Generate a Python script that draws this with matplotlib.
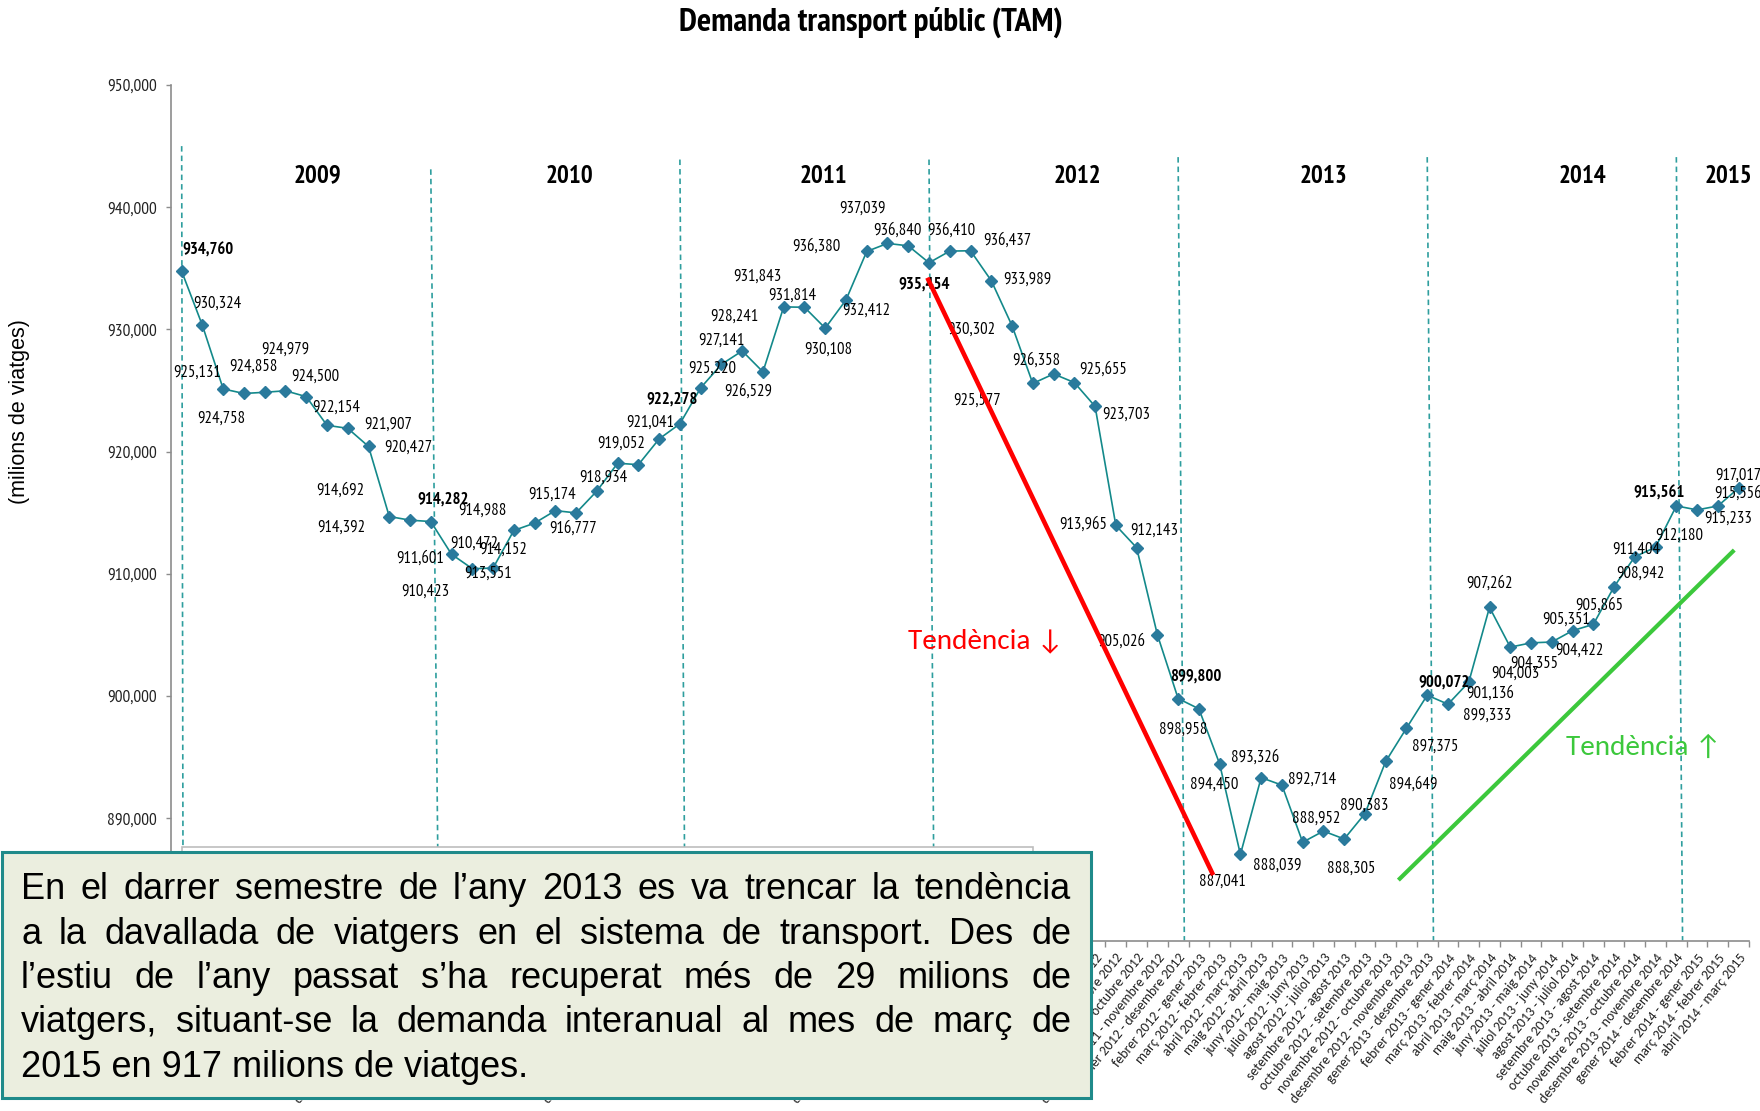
import numpy as np
import matplotlib
matplotlib.use('Agg')
import matplotlib.pyplot as plt
from matplotlib import font_manager
from matplotlib.patches import Rectangle

# ---------------------------------------------
# Data: TAM (12-month rolling) public transport demand
# ---------------------------------------------
tam_values = [
    934760, 930324, 925131, 924758, 924858, 924979, 924500, 922154, 921907, 920427,
    914692, 914392, 914282, 911601, 910423, 910472, 913551, 914152, 915174, 914988,
    916777, 919052, 918934, 921041, 922278, 925220, 927141, 928241, 926529, 931843,
    931814, 930108, 932412, 936380, 937039, 936840, 935454, 936410, 936437, 933989,
    930302, 925577, 926358, 925655, 923703, 913965, 912143, 905026, 899800, 898958,
    894450, 887041, 893326, 892714, 888039, 888952, 888305, 890383, 894649, 897375,
    900072, 899333, 901136, 907262, 904003, 904355, 904422, 905351, 905865, 908942,
    911404, 912180, 915561, 915233, 915556, 917017,
]

period_labels = [
    "gener 2008 - desembre 2008",
    "febrer 2008 - gener 2009", "març 2008 - febrer 2009", "abril 2008 - març 2009",
    "maig 2008 - abril 2009", "juny 2008 - maig 2009", "juliol 2008 - juny 2009",
    "agost 2008 - juliol 2009", "setembre 2008 - agost 2009", "octubre 2008 - setembre 2009",
    "novembre 2008 - octubre 2009", "desembre 2008 - novembre 2009", "gener 2009 - desembre 2009",
    "febrer 2009 - gener 2010", "març 2009 - febrer 2010", "abril 2009 - març 2010",
    "maig 2009 - abril 2010", "juny 2009 - maig 2010", "juliol 2009 - juny 2010",
    "agost 2009 - juliol 2010", "setembre 2009 - agost 2010", "octubre 2009 - setembre 2010",
    "novembre 2009 - octubre 2010", "desembre 2009 - novembre 2010", "gener 2010 - desembre 2010",
    "febrer 2010 - gener 2011", "març 2010 - febrer 2011", "abril 2010 - març 2011",
    "maig 2010 - abril 2011", "juny 2010 - maig 2011", "juliol 2010 - juny 2011",
    "agost 2010 - juliol 2011", "setembre 2010 - agost 2011", "octubre 2010 - setembre 2011",
    "novembre 2010 - octubre 2011", "desembre 2010 - novembre 2011", "gener 2011 - desembre 2011",
    "febrer 2011 - gener 2012", "març 2011 - febrer 2012", "abril 2011 - març 2012",
    "maig 2011 - abril 2012", "juny 2011 - maig 2012", "juliol 2011 - juny 2012",
    "agost 2011 - juliol 2012", "setembre 2011 - agost 2012", "octubre 2011 - setembre 2012",
    "novembre 2011 - octubre 2012", "desembre 2011 - novembre 2012", "gener 2012 - desembre 2012",
    "febrer 2012 - gener 2013", "març 2012 - febrer 2013", "abril 2012 - març 2013",
    "maig 2012 - abril 2013", "juny 2012 - maig 2013", "juliol 2012 - juny 2013",
    "agost 2012 - juliol 2013", "setembre 2012 - agost 2013", "octubre 2012 - setembre 2013",
    "novembre 2012 - octubre 2013", "desembre 2012 - novembre 2013", "gener 2013 - desembre 2013",
    "febrer 2013 - gener 2014", "març 2013 - febrer 2014", "abril 2013 - març 2014",
    "maig 2013 - abril 2014", "juny 2013 - maig 2014", "juliol 2013 - juny 2014",
    "agost 2013 - juliol 2014", "setembre 2013 - agost 2014", "octubre 2013 - setembre 2014",
    "novembre 2013 - octubre 2014", "desembre 2013 - novembre 2014", "gener 2014 - desembre 2014",
    "febrer 2014 - gener 2015", "març 2014 - febrer 2015", "abril 2014 - març 2015",
]

years = ['2009', '2010', '2011', '2012', '2013', '2014', '2015']
year_end_idx = [0, 12, 24, 36, 48, 60, 72]   # december points (bold labels, dashed lines)

box_lines = [
    "En el darrer semestre de l\u2019any 2013 es va trencar la tend\u00e8ncia",
    "a la davallada de viatgers en el sistema de transport. Des de",
    "l\u2019estiu de l\u2019any passat s\u2019ha recuperat m\u00e9s de 29 milions de",
    "viatgers, situant-se la demanda interanual al mes de mar\u00e7 de",
    "2015 en 917 milions de viatges.",
]

# ---------------------------------------------
# Layout (pixels in a 1760x1111 canvas)
# ---------------------------------------------
# data label offsets (dx, dy) in px, screen coords (dy down)
label_off = [
    (26, -21), (15, -22), (-26, -16), (-23, 25), (-11, -26), (0, -41), (9, -20), (9, -18),
    (40, -4), (40, 1), (-49, -26), (-69, 8), (12, -22), (-31, 4), (-47, 23), (-19, -24),
    (-26, 43), (-31, 27), (-3, -16), (-94, -2), (-24, 38), (4, -20), (-35, 13), (-9, -16),
    (-8, -24), (12, -19), (0, -24), (-8, -34), (-15, 20), (-26, -30), (-12, -12), (3, 22),
    (20, 11), (-50, -5), (-25, -35), (-11, -15), (-5, 22), (2, -20), (37, -10), (36, -1),
    (-41, 4), (-56, 17), (-17, -13), (29, -13), (31, 8), (-33, -1), (18, -17), (-36, 7),
    (18, -22), (-16, 21), (-5, 21), (-18, 27), (-6, -20), (30, -5), (-25, 23), (-7, -12),
    (7, 30), (-1, -8), (28, 23), (29, 19), (17, -13), (39, 11), (21, 12), (0, -24),
    (5, 27), (3, 21), (28, 9), (-6, -11), (6, -19), (26, -13), (1, -7), (24, -12),
    (-17, -12), (31, 9), (20, -12), (0, -12),
]
year_label_x = [6.55, 18.7, 30.9, 43.15, 55.0, 67.5, 74.5]
year_label_y = 942550
sep_top = [945000, 943100, 943900, 943900, 944100, 944100, 944100]
sep_slant = [0.07, 0.38, 0.25, 0.25, 0.3, 0.3, 0.3]

W, H = 1760, 1111

# fonts: chart text is a narrow Arial, axis labels a Calibri-like face
_fonts = font_manager.fontManager.ttflist


def pick(cands, bold=False):
    for c in cands:
        for f in _fonts:
            if f.name == c and (not bold or f.weight in (700, 'bold')):
                return c
    return None


NARROW = pick(['Liberation Sans Narrow', 'PT Sans Narrow', 'Archivo Narrow',
               'Roboto Condensed', 'Asap Condensed'])
NARROW_B = pick(['Liberation Sans Narrow', 'PT Sans Narrow', 'Roboto Condensed',
                 'Asap Condensed', 'Archivo Narrow'], bold=True)
k = 1.0
kb = 1.0
if NARROW is None:
    NARROW, k = 'Liberation Sans', 0.84
if NARROW_B is None:
    NARROW_B, kb = 'Liberation Sans', 0.84
CAL1 = pick(['Carlito'])
if CAL1:
    CAL, kc = [CAL1, 'DejaVu Sans'], 1.0
else:
    CAL, kc = ['Lato', 'DejaVu Sans'], 0.88

line_col = '#13898A'
mark_col = '#2A7A9C'
sep_col = '#2E9E9E'
axis_col = '#8C8C8C'

fig = plt.figure(figsize=(W / 100, H / 100), dpi=100)
ax = fig.add_axes([171.3 / W, 1 - 940.5 / H, (1749 - 171.3) / W, (940.5 - 85) / H])

x = np.arange(len(tam_values))
ax.plot(x, tam_values, color=line_col, lw=1.2, marker='D', ms=6,
        mfc=mark_col, mec=mark_col, zorder=4)

ax.set_xlim(-0.5, len(tam_values) - 0.5)
ax.set_ylim(880000, 950000)

# year separators
for i, top, s in zip(year_end_idx, sep_top, sep_slant):
    ax.plot([i, i + s], [top, 880000], color=sep_col, lw=1.2,
            linestyle=(0, (3.3, 2.4)), zorder=2)

for yr, xx in zip(years, year_label_x):
    ax.text(xx, year_label_y, yr, ha='center', va='center', fontsize=18 * kb,
            fontweight='bold', family=NARROW_B)

# data labels
for i, (v, (dx, dy)) in enumerate(zip(tam_values, label_off)):
    bold = i in year_end_idx
    ax.annotate(f'{v:,}', (i, v), xytext=(dx, -dy), textcoords='offset pixels',
                ha='center', va='center',
                fontsize=(12 * kb) if bold else (12 * k),
                family=NARROW_B if bold else NARROW,
                fontweight='bold' if bold else 'normal', zorder=5)

# trend lines
ax.plot([35.92, 49.69], [934231, 885352], color='#FF0000', lw=3.3, zorder=6,
        solid_capstyle='butt')
ax.plot([58.61, 74.79], [884943, 911948], color='#3CC83C', lw=3.0, zorder=6,
        solid_capstyle='butt')
ax.text(35.0, 903900, 'Tend\u00e8ncia \u2193', color='#FF0000', fontsize=21 * kc,
        family=CAL, va='baseline', ha='left')
ax.text(66.67, 895200, 'Tend\u00e8ncia \u2191', color='#3CC83C', fontsize=21 * kc,
        family=CAL, va='baseline', ha='left')

# axes styling
for sp in ['top', 'right']:
    ax.spines[sp].set_visible(False)
for sp in ['left', 'bottom']:
    ax.spines[sp].set_color(axis_col)
    ax.spines[sp].set_linewidth(1.2)

ax.set_yticks(np.arange(880000, 950001, 10000))
ax.set_yticklabels([f'{t:,}' for t in range(880000, 950001, 10000)])
ax.tick_params(axis='y', direction='out', length=3.6, width=1, color=axis_col,
               pad=7, labelsize=12.5 * k, labelcolor='#222222')
for lab in ax.get_yticklabels():
    lab.set_family(NARROW)

ax.set_xticks(x)
ax.set_xticklabels(period_labels, rotation=51, ha='right', rotation_mode='anchor',
                   fontsize=10 * kc, family=CAL, color='#222222')
ax.set_xticks(np.arange(-0.5, len(tam_values)), minor=True)
ax.tick_params(axis='x', which='major', length=0, pad=8)
ax.tick_params(axis='x', which='minor', length=4, width=1, color=axis_col, direction='out')

# title and axis label
fig.text(871 / W, 1 - 22.5 / H, 'Demanda transport p\u00fablic (TAM)', ha='center',
         va='center', fontsize=24 * kb, fontweight='bold', family=NARROW_B)
fig.text(20 / W, 1 - 412 / H, '(milions de viatges)', rotation=90, ha='center',
         va='center', fontsize=15.5, family='Liberation Sans')

# boxes over the bottom-left part
fig.patches.append(Rectangle((182 / W, 1 - 1098 / H), (1033 - 182) / W, (1098 - 847) / H,
                             transform=fig.transFigure, facecolor='white',
                             edgecolor='#BDBDBD', lw=1.2, zorder=4))
fig.patches.append(Rectangle((1.5 / W, 1 - 1098 / H), (1091 - 1.5) / W, (1098 - 852) / H,
                             transform=fig.transFigure, facecolor='#EBEEDF',
                             edgecolor='#1F8A8A', lw=2.2, zorder=5))

# justified paragraph
r = fig.canvas.get_renderer()
x0, x1 = 21, 1071
for n, line in enumerate(box_lines):
    yb = 1 - (899 + n * 44.5) / H
    if n == len(box_lines) - 1:
        fig.text(x0 / W, yb, line, fontsize=26, family='Liberation Sans',
                 va='baseline', ha='left', zorder=6)
        continue
    words = line.split(' ')
    arts = [fig.text(0, yb, wd, fontsize=26, family='Liberation Sans',
                     va='baseline', ha='left', zorder=6) for wd in words]
    widths = [a.get_window_extent(r).width for a in arts]
    gap = (x1 - x0 - sum(widths)) / (len(words) - 1)
    xp = x0
    for a, wdt in zip(arts, widths):
        a.set_x(xp / W)
        xp += wdt + gap

fig.savefig('out.png', dpi=100)
